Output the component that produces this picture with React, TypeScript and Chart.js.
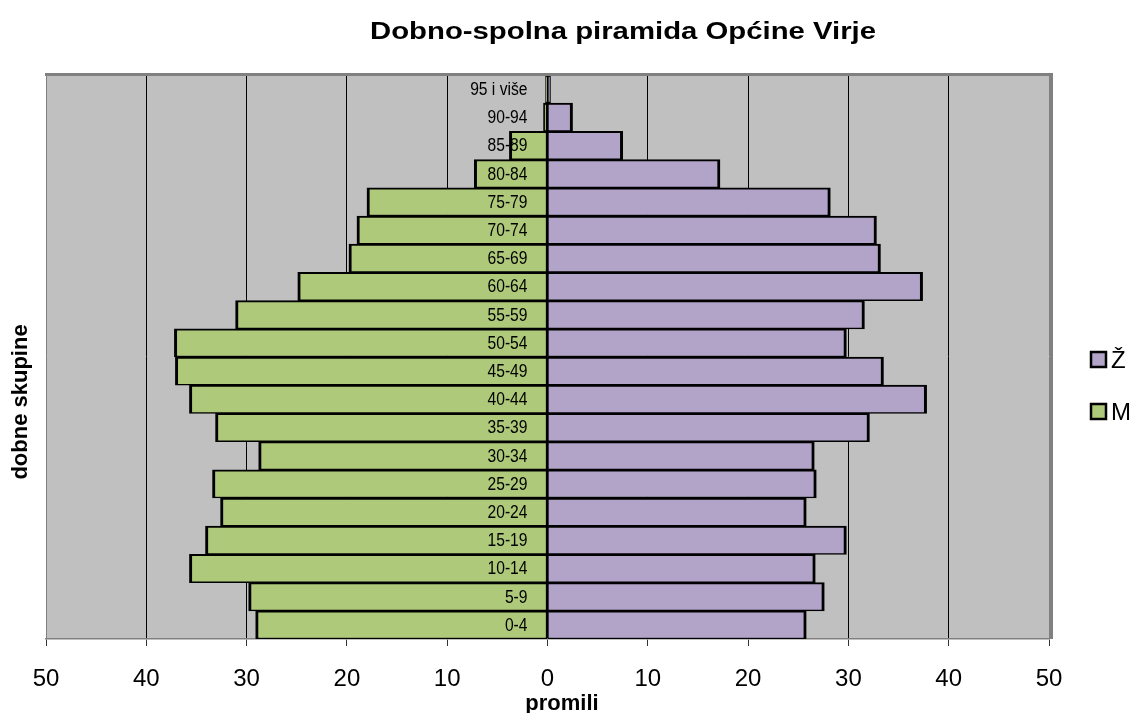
import React, { useEffect, useRef } from "react";
import { Chart, registerables } from "chart.js";

Chart.register(...registerables);

const TITLE = "Dobno-spolna piramida Općine Virje";
const X_TITLE = "promili";
const Y_TITLE = "dobne skupine";

const AGE_GROUPS = [
  "95 i više", "90-94", "85-89", "80-84", "75-79", "70-74", "65-69", "60-64",
  "55-59", "50-54", "45-49", "40-44", "35-39", "30-34", "25-29", "20-24",
  "15-19", "10-14", "5-9", "0-4",
];

// promili, men (drawn to the left)
const MALE = [
  0.2, 0.4, 3.8, 7.3, 18.0, 19.0, 19.8, 24.9, 31.1, 37.2, 37.1, 35.7, 33.1,
  28.8, 33.4, 32.6, 34.1, 35.7, 29.8, 29.1,
];
// promili, women (drawn to the right)
const FEMALE = [
  0.3, 2.5, 7.5, 17.2, 28.2, 32.8, 33.2, 37.4, 31.6, 29.8, 33.5, 37.8, 32.1,
  26.6, 26.8, 25.8, 29.8, 26.7, 27.6, 25.8,
];

const SERIES_NAMES = { male: "M", female: "Ž" };
const X_MIN = -50;
const X_MAX = 50;
const X_STEP = 10;

const GREEN = "#AEC97A";
const PURPLE = "#B2A3C8";
const PLOT_BG = "#C0C0C0";
const FRAME = "#808080";
const FONT = '"Liberation Sans", Arial, sans-serif';

const decorPlugin = {
  id: "decor",
  beforeDraw(chart: any) {
    const { ctx, chartArea: a } = chart;
    ctx.save();
    ctx.fillStyle = PLOT_BG;
    ctx.fillRect(a.left, a.top, a.right - a.left, a.bottom - a.top);
    ctx.restore();
  },
  afterDatasetsDraw(chart: any) {
    const { ctx, chartArea: a } = chart;
    const xs = chart.scales.x;
    const ys = chart.scales.y;
    ctx.save();
    const x0 = xs.getPixelForValue(0);
    ctx.fillStyle = "#000";
    ctx.font = `17px ${FONT}`;
    ctx.textAlign = "right";
    ctx.textBaseline = "middle";
    (chart.data.labels as string[]).forEach((l, i) => {
      ctx.save();
      ctx.translate(x0 - 20, ys.getPixelForValue(i) + 1);
      ctx.scale(0.92, 1.05);
      ctx.fillText(l, 0, 0);
      ctx.restore();
    });
    ctx.fillStyle = FRAME;
    ctx.fillRect(a.left - 1, a.top - 2, a.right - a.left + 5, 3);
    ctx.fillRect(a.right + 1, a.top - 2, 3, a.bottom - a.top + 2);
    ctx.restore();
  },
  afterDraw(chart: any) {
    const { ctx } = chart;
    ctx.save();
    ctx.fillStyle = "#000";
    ctx.font = `bold 23px ${FONT}`;
    const w = ctx.measureText(TITLE).width;
    ctx.save();
    ctx.translate(623, 39);
    ctx.scale(506 / w, 1);
    ctx.textAlign = "center";
    ctx.textBaseline = "alphabetic";
    ctx.fillText(TITLE, 0, 0);
    ctx.restore();
    ctx.font = `bold 22px ${FONT}`;
    ctx.textAlign = "center";
    ctx.textBaseline = "alphabetic";
    ctx.fillText(X_TITLE, 562, 710);
    ctx.save();
    ctx.translate(27, 402);
    ctx.rotate(-Math.PI / 2);
    ctx.font = `bold 22px ${FONT}`;
    ctx.fillText(Y_TITLE, 0, 0);
    ctx.restore();
    const ds = [...chart.data.datasets].reverse();
    ds.forEach((d: any, i: number) => {
      const by = 352 + i * 52;
      ctx.fillStyle = d.backgroundColor;
      ctx.fillRect(1091, by, 15, 15);
      ctx.strokeStyle = "#000";
      ctx.lineWidth = 2.5;
      ctx.strokeRect(1091, by, 15, 15);
      ctx.fillStyle = "#000";
      ctx.font = `24px ${FONT}`;
      ctx.textAlign = "left";
      ctx.textBaseline = "alphabetic";
      ctx.fillText(d.label, 1111, by + 16);
    });
    ctx.restore();
  },
};

export default function App() {
  const ref = useRef<HTMLCanvasElement>(null);
  useEffect(() => {
    if (!ref.current) return;
    const chart = new Chart(ref.current, {
      type: "bar",
      data: {
        labels: AGE_GROUPS,
        datasets: [
          {
            label: SERIES_NAMES.male,
            data: MALE.map((v) => -v),
            backgroundColor: GREEN,
            borderColor: "#000",
            borderWidth: { left: 3, right: 1.5, top: 2, bottom: 1.5 } as any,
            borderSkipped: false,
            barPercentage: 1,
            categoryPercentage: 1,
          },
          {
            label: SERIES_NAMES.female,
            data: FEMALE,
            backgroundColor: PURPLE,
            borderColor: "#000",
            borderWidth: { left: 1, right: 3, top: 2, bottom: 1.5 } as any,
            borderSkipped: false,
            barPercentage: 1,
            categoryPercentage: 1,
          },
        ],
      },
      options: {
        indexAxis: "y",
        responsive: false,
        animation: false,
        layout: { padding: { left: 46, right: 89, top: 75, bottom: 0 } },
        plugins: {
          legend: { display: false },
          title: { display: false },
          tooltip: { enabled: false },
        },
        scales: {
          x: {
            type: "linear",
            min: X_MIN,
            max: X_MAX,
            stacked: true,
            afterFit: (s: any) => {
              s.height = 74;
            },
            ticks: {
              stepSize: X_STEP,
              color: "#000",
              font: { size: 24, family: FONT },
              padding: 19,
              callback: (v: any) => String(Math.abs(Number(v))),
            },
            grid: {
              color: (c: any) =>
                c.tick && Math.abs(c.tick.value) === 50 ? FRAME : "#000",
              lineWidth: 1,
              tickLength: 7,
              tickColor: "#333",
              drawTicks: true,
            },
            border: { color: FRAME, width: 1.5 },
          },
          y: {
            type: "category",
            stacked: true,
            display: false,
          },
        },
      },
      plugins: [decorPlugin],
    } as any);
    return () => chart.destroy();
  }, []);
  return (
    <div style={{ position: "absolute", left: 0, top: 0, width: 1138, height: 713 }}>
      <canvas ref={ref} width={1138} height={713} />
    </div>
  );
}
